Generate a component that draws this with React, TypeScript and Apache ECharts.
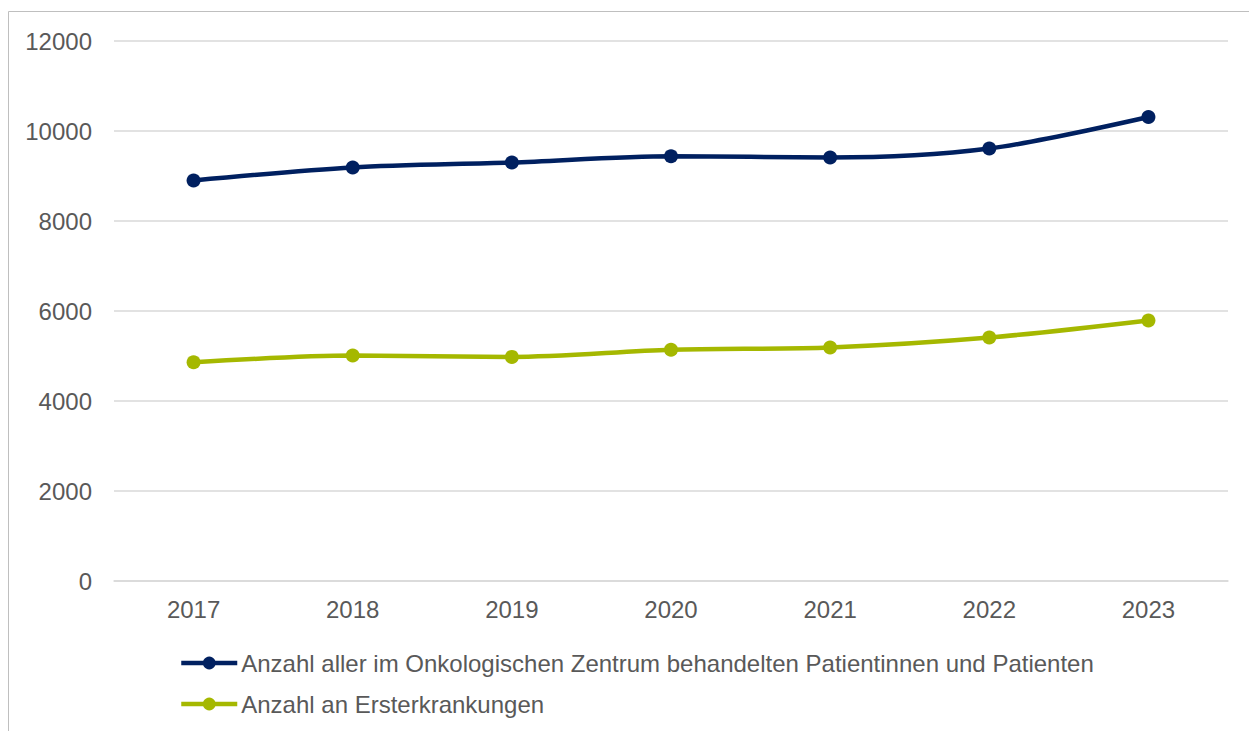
import React, { useEffect, useRef } from "react";
import * as echarts from "echarts";

const years = ["2017", "2018", "2019", "2020", "2021", "2022", "2023"];
const allPatients = [8900, 9190, 9300, 9440, 9410, 9610, 10310];
const firstCases = [4860, 5010, 4980, 5140, 5190, 5410, 5790];
const seriesNames = [
  "Anzahl aller im Onkologischen Zentrum behandelten Patientinnen und Patienten",
  "Anzahl an Ersterkrankungen",
];
const colors = ["#002060", "#A5B800"];

export default function App() {
  const ref = useRef<HTMLDivElement>(null);
  useEffect(() => {
    if (!ref.current) return;
    const chart = echarts.init(ref.current, null, { renderer: "svg" });
    const font = "'Liberation Sans', Arial, sans-serif";
    chart.setOption({
      animation: false,
      backgroundColor: "#ffffff",
      textStyle: { fontFamily: font },
      graphic: [
        {
          type: "rect",
          shape: { x: 0.5, y: 3.5, width: 1300, height: 800 },
          style: { fill: "none", stroke: "#bfbfbf", lineWidth: 1 },
          silent: true,
        },
      ],
      grid: { left: 106, right: 29, top: 33, bottom: 150, containLabel: false },
      legend: {
        orient: "vertical",
        left: 166,
        top: 638,
        itemWidth: 56,
        itemHeight: 16,
        itemGap: 17,
        textStyle: { fontSize: 24, color: "#595959", fontFamily: font, padding: [0, 0, 0, -1] },
        lineStyle: { width: 4.5 },
        data: seriesNames,
      },
      xAxis: {
        type: "category",
        data: years,
        boundaryGap: true,
        axisLine: { show: true, lineStyle: { color: "#d9d9d9", width: 1.5 } },
        axisTick: { show: false },
        axisLabel: { color: "#595959", fontSize: 24, margin: 16, fontFamily: font },
        splitLine: { show: false },
      },
      yAxis: {
        type: "value",
        min: 0,
        max: 12000,
        interval: 2000,
        axisLine: { show: false },
        axisTick: { show: false },
        axisLabel: {
          color: "#595959",
          fontSize: 24,
          margin: 22,
          fontFamily: font,
          formatter: (v: number) => String(v),
        },
        splitLine: { lineStyle: { color: "#d9d9d9", width: 1.5 } },
      },
      series: [
        {
          name: seriesNames[0],
          type: "line",
          data: allPatients,
          smooth: 0.3,
          symbol: "circle",
          symbolSize: 14,
          lineStyle: { width: 4.5, color: colors[0] },
          itemStyle: { color: colors[0] },
        },
        {
          name: seriesNames[1],
          type: "line",
          data: firstCases,
          smooth: 0.3,
          symbol: "circle",
          symbolSize: 14,
          lineStyle: { width: 4.5, color: colors[1] },
          itemStyle: { color: colors[1] },
        },
      ],
    });
    return () => chart.dispose();
  }, []);
  return <div ref={ref} style={{ width: 1249, height: 723 }} />;
}
